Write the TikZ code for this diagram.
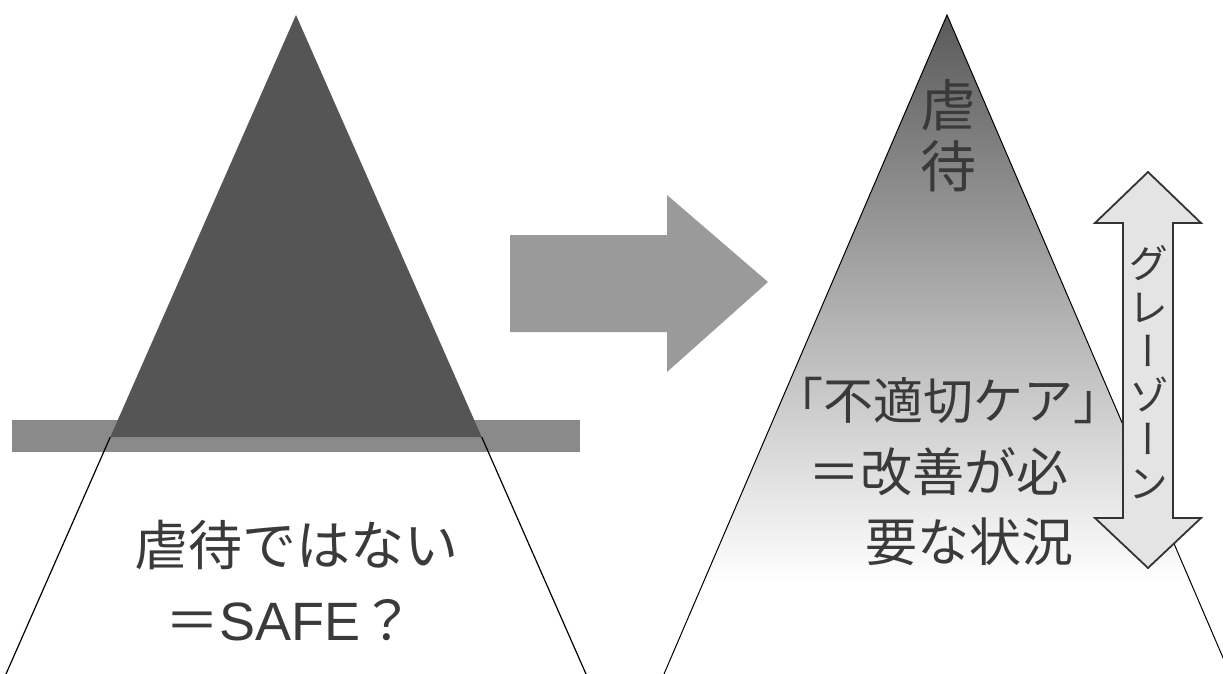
\documentclass[tikz,border=0pt]{standalone}
\usepackage{fontspec}
\newfontfamily\cjk{Noto Sans CJK JP}
\newfontfamily\cjkv[RawFeature=+vert]{Noto Sans CJK JP}
\newfontfamily\lat{Liberation Sans}
\definecolor{darkg}{HTML}{555555}
\definecolor{topg}{HTML}{5A5A5A}
\definecolor{bandg}{HTML}{8A8A8A}
\definecolor{arrowg}{HTML}{9A9A9A}
\definecolor{lightg}{HTML}{E4E4E4}
\definecolor{outl}{HTML}{333333}
\definecolor{txt}{HTML}{3A3A3A}
\pgfdeclareverticalshading{pyr}{100bp}{color(0bp)=(white); color(32bp)=(white); color(75bp)=(topg); color(100bp)=(topg)}
\begin{document}
\begin{tikzpicture}[x=1pt,y=-1pt,
  lbl/.style={inner sep=0pt, text=txt},
  edge/.style={draw=black, line width=1.2pt}]
\useasboundingbox (0,0) rectangle (1223,674);
\clip (0,0) rectangle (1223,674);
\fill[white] (0,0) rectangle (1223,674);
% left pyramid
\coordinate (LA) at (296,15);
\coordinate (LL) at (6,674);
\coordinate (LR) at (586,674);
\coordinate (LBl) at (110.3,437);
\coordinate (LBr) at (481.7,437);
\fill[bandg] (12,420) rectangle (580,452);
\fill[darkg] (LA) -- (LBl) -- (LBr) -- cycle;
\draw[edge] (LBl) -- (LL);
\draw[edge] (LBr) -- (LR);
\node[lbl, font=\cjk\fontsize{54}{60}\selectfont] (t1) at (296,545) {虐待ではない};
\node[lbl, font=\cjk\fontsize{54}{60}\selectfont] (t2) at (290,620) {＝{\lat SAFE}？};
% big arrow
\fill[arrowg] (510,235) -- (667,235) -- (667,195) -- (768,282) -- (667,372) -- (667,332) -- (510,332) -- cycle;
% right pyramid
\coordinate (RA) at (947,15);
\coordinate (RL) at (664,674);
\coordinate (RR) at (1230,674);
\path[shading=pyr] (RA) -- (RL) -- (RR) -- cycle;
\draw[line width=1pt, black] (RL) -- (RA) -- (RR);
\node[lbl, font=\cjk\fontsize{56}{60}\selectfont] (r1) at (948,105) {虐};
\node[lbl, font=\cjk\fontsize{56}{60}\selectfont] (r2) at (948,166) {待};
\node[lbl, font=\cjk\fontsize{50}{56}\selectfont] (r3) at (948,400) {「不適切ケア」};
\node[lbl, font=\cjk\fontsize{52}{56}\selectfont] (r4) at (938,472) {＝改善が必};
\node[lbl, font=\cjk\fontsize{52}{56}\selectfont] (r5) at (969,542) {要な状況};
% double arrow
\filldraw[fill=lightg, draw=outl, line width=1.8pt] (1148,172) -- (1201,223) -- (1173,223) -- (1173,518) -- (1201,518) -- (1148,568) -- (1095,518) -- (1123,518) -- (1123,223) -- (1095,223) -- cycle;
\node[lbl, align=center, font=\cjkv\fontsize{40}{44}\selectfont] (gz) at (1148,372) {グ\\レ\\ー\\ゾ\\ー\\ン};
\end{tikzpicture}
\end{document}
